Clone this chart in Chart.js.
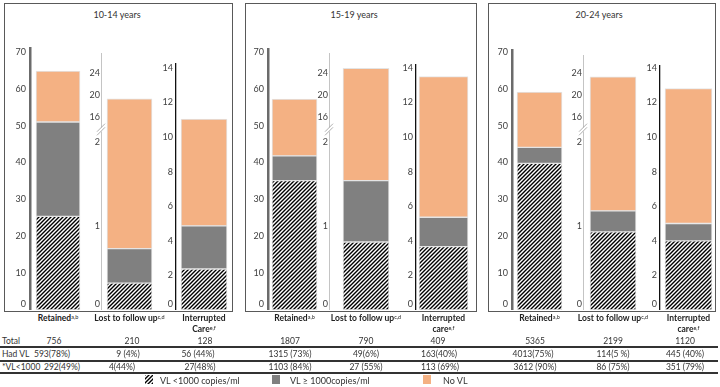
<!DOCTYPE html>
<html>
<head>
<meta charset="utf-8">
<script src="https://cdn.jsdelivr.net/npm/chart.js@4.4.1/dist/chart.umd.min.js"></script>
<style>
  body { margin: 0; width: 720px; height: 387px; position: relative; background: #fff;
         font-family: Lato, 'Liberation Sans', sans-serif; color: #333; overflow: hidden; }
  .box { position: absolute; border: 1px solid #595959; box-sizing: border-box; }
  canvas { position: absolute; }
  .title { position: absolute; font-size: 9px; transform: translateX(-50%); white-space: nowrap; color: #333; }
  .cat { position: absolute; top: 313px; font-size: 8.5px; font-weight: bold; text-align: center;
         transform: translateX(-50%); white-space: nowrap; line-height: 11px; color: #222; }
  sup { font-size: 5.5px; vertical-align: top; line-height: 8px; font-weight: normal; }
  .cell { position: absolute; font-size: 8.5px; transform: translate(-50%, -50%); white-space: nowrap; color: #333; }
  .rowlab { position: absolute; left: 2px; font-size: 8.5px; transform: translateY(-50%); white-space: nowrap; color: #333; }
  .rule { position: absolute; left: 0; width: 718px; height: 2px; background: #333; }
  .leg { position: absolute; font-size: 9px; transform: translateY(-50%); white-space: nowrap; color: #333; }
</style>
</head>
<body>
<script>
// ---- data ----
const AGE_GROUPS = ['10-14 years', '15-19 years', '20-24 years'];
const CATEGORY_NAMES = ['Retained', 'Lost to follow up', 'Interrupted'];
const CATEGORY_SECOND = ['Care', 'care', 'care'];   // second line of "Interrupted care"
const CATEGORY_NOTES = ['a,b', 'c,d', 'e,f'];
const SERIES_LABELS = ['VL <1000 copies/ml', 'VL \u2265 1000copies/ml', 'No VL'];

// per age group: [retained, lost to follow up, interrupted care]
const VL_UNDER_1000 = [[25.4, 0.32, 2.37], [35.1, 0.81, 3.66], [39.8, 0.93, 4.0]];
const VL_OVER_1000  = [[25.6, 0.41, 2.49], [6.7, 0.73, 1.70], [4.3, 0.25, 1.0]];
const NO_VL         = [[13.8, 18.57, 6.18], [15.4, 23.31, 8.13], [15.0, 22.12, 7.8]];

const RETAINED_TICK_STEP = 10;
const INTERRUPTED_TICK_STEP = 2;
const LTFU_TICKS = [0, 1, 2, 16, 20, 24];

const ROW_LABELS = ['Total', 'Had VL', '*VL<1000'];
const TOTAL = ['756', '210', '128', '1807', '790', '409', '5365', '2199', '1120'];
const HAD_VL = ['593(78%)', '9 (4%)', '56 (44%)', '1315 (73%)', '49(6%)', '163(40%)', '4013(75%)', '114(5 %)', '445 (40%)'];
const VL_SUPPRESSED = ['292(49%)', '4(44%)', '27(48%)', '1103 (84%)', '27 (55%)', '113 (69%)', '3612 (90%)', '86 (75%)', '351 (79%)'];

// ---- layout ----
const BASE = 310;           // pixel row of the value 0
const YW = 24;              // width reserved for y tick labels
const PAD_TOP = 10;
const PANEL_BOXES = [[4, 233], [245, 477], [488, 716]];
const TITLE_X = [117, 354, 599];
// [axis x, axis top, bar left, bar right]
const SLOTS = [
  [[30, 48, 36, 80], [101, 53, 107, 152], [176, 64, 181, 227]],
  [[268, 49, 272, 317], [329, 53, 343, 389], [416, 65, 419, 468]],
  [[512, 50, 517, 562], [583, 55, 590, 636], [660, 66, 665, 712]],
];
const PX_RETAINED = 3.686;     // px per unit
const PX_INTERRUPTED = 17.3;
const ROW_Y = [341, 354, 367];
const RULE_Y = [346, 359.5, 372];
const COL_X = [
  [54, 132, 205, 290, 366, 438, 535, 613, 685],
  [52, 128, 198, 290, 366, 439, 533, 613, 685],
  [62, 122, 200, 290, 366, 440, 535, 613, 685],
];

const ORANGE = '#F4B183';
const GRAY = '#808080';
const EDGE = '#e4e4e4';

Chart.defaults.font.family = 'Lato, "Liberation Sans", sans-serif';
Chart.defaults.font.size = 9;
Chart.defaults.color = '#404040';

// broken axis used by the "lost to follow up" bars: 0-2 stretched, 2-16 squeezed, 16+ compressed
function brokenOffset(v) {
  if (v <= 2) return v * 84;
  if (v <= 16) return 168 + (v - 2) / 14 * 25;
  return 193 + (v - 16) * 5.5;
}
function brokenValue(off) {
  if (off <= 168) return off / 84;
  if (off <= 193) return 2 + (off - 168) / 25 * 14;
  return 16 + (off - 193) / 5.5;
}

class PanelScale extends Chart.LinearScale {
  static id = 'panel';
  static defaults = Chart.LinearScale.defaults;
  buildTicks() {
    if (this.options.broken) return LTFU_TICKS.map(v => ({ value: v }));
    return super.buildTicks();
  }
  getPixelForValue(v) {
    if (!this.options.broken) return super.getPixelForValue(v);
    return this.bottom - brokenOffset(v);
  }
  getValueForPixel(p) {
    if (!this.options.broken) return super.getValueForPixel(p);
    return brokenValue(this.bottom - p);
  }
  // the zero labels sit a little above the base line in the original
  getPixelForTick(i) {
    const p = super.getPixelForTick(i);
    return this.ticks[i] && this.ticks[i].value === 0 ? p - 6 : p;
  }
}
Chart.register(PanelScale);

const breakMark = {
  id: 'breakMark',
  afterDraw(chart) {
    const y = chart.scales.y;
    if (!y.options.broken) return;
    const ctx = chart.ctx, x = y.right, py = y.getPixelForValue(9);
    ctx.save();
    ctx.fillStyle = '#fff';
    ctx.fillRect(x - 2, py - 2, 4, 4);
    ctx.strokeStyle = '#9a9a9a';
    ctx.lineWidth = 0.8;
    [-1.8, 1.8].forEach(d => {
      ctx.beginPath();
      ctx.moveTo(x - 4, py + d + 4);
      ctx.lineTo(x + 4, py + d - 4);
      ctx.stroke();
    });
    ctx.restore();
  }
};

function hatchTile() {
  const c = document.createElement('canvas');
  c.width = c.height = 4;
  const g = c.getContext('2d');
  g.fillStyle = '#fff';
  g.fillRect(0, 0, 4, 4);
  g.strokeStyle = '#000';
  g.lineWidth = 1.4;
  g.beginPath();
  g.moveTo(0, 4); g.lineTo(4, 0);
  g.moveTo(-1, 1); g.lineTo(1, -1);
  g.moveTo(3, 5); g.lineTo(5, 3);
  g.stroke();
  return c;
}
const TILE = hatchTile();

function el(cls, html, style) {
  const d = document.createElement('div');
  d.className = cls;
  d.innerHTML = html;
  Object.assign(d.style, style);
  document.body.appendChild(d);
  return d;
}

// panel frames and titles
PANEL_BOXES.forEach(([l, r], p) => {
  el('box', '', { left: l + 'px', top: '3px', width: (r - l) + 'px', height: '309px' });
  el('title', AGE_GROUPS[p], { left: TITLE_X[p] + 'px', top: '9px' });
});

const AXIS_STYLE = [
  { color: '#6b6b6b', width: 2.5, pad: 4 },
  { color: '#c4c4c4', width: 1, pad: 1 },
  { color: '#111', width: 1.3, pad: 3 },
];

for (let p = 0; p < 3; p++) {
  for (let c = 0; c < 3; c++) {
    const [ax, top, bl, br] = SLOTS[p][c];
    const center = (bl + br) / 2;
    const left = ax - YW;
    const right = 2 * center - ax;
    const cv = document.createElement('canvas');
    cv.width = right - left;
    cv.height = BASE - top + PAD_TOP;
    cv.style.left = left + 'px';
    cv.style.top = (top - PAD_TOP) + 'px';
    document.body.appendChild(cv);

    const pattern = cv.getContext('2d').createPattern(TILE, 'repeat');
    const yOpts = {
      type: 'panel', stacked: true, min: 0,
      grid: { display: false, drawTicks: false },
      border: { display: true, color: AXIS_STYLE[c].color, width: AXIS_STYLE[c].width },
      ticks: { padding: AXIS_STYLE[c].pad, autoSkip: false, includeBounds: false, callback: v => String(v) },
      afterFit(s) { s.width = YW; s.paddingTop = 0; s.paddingBottom = 0; },
    };
    if (c === 0) { yOpts.max = (BASE - top) / PX_RETAINED; yOpts.ticks.stepSize = RETAINED_TICK_STEP; }
    if (c === 1) { yOpts.max = brokenValue(BASE - top); yOpts.broken = true; }
    if (c === 2) { yOpts.max = (BASE - top) / PX_INTERRUPTED; yOpts.ticks.stepSize = INTERRUPTED_TICK_STEP; }

    const common = { barThickness: br - bl, borderColor: EDGE, borderWidth: 1, borderSkipped: false };
    new Chart(cv, {
      type: 'bar',
      data: {
        labels: [CATEGORY_NAMES[c]],
        datasets: [
          { label: SERIES_LABELS[0], data: [VL_UNDER_1000[p][c]], backgroundColor: pattern, ...common },
          { label: SERIES_LABELS[1], data: [VL_OVER_1000[p][c]], backgroundColor: GRAY, ...common },
          { label: SERIES_LABELS[2], data: [NO_VL[p][c]], backgroundColor: ORANGE, ...common },
        ],
      },
      options: {
        responsive: false,
        animation: false,
        layout: { padding: { top: PAD_TOP, left: 0, right: 0, bottom: 0 } },
        plugins: { legend: { display: false }, tooltip: { enabled: false } },
        scales: {
          x: { stacked: true, display: false },
          y: yOpts,
        },
      },
      plugins: [breakMark],
    });

    // category label under the bar
    const name = c === 2
      ? CATEGORY_NAMES[c] + '<br>' + CATEGORY_SECOND[p] + '<sup>' + CATEGORY_NOTES[c] + '</sup>'
      : CATEGORY_NAMES[c] + '<sup>' + CATEGORY_NOTES[c] + '</sup>';
    el('cat', name, { left: center + 'px' });
  }
}

// summary table
const ROWS = [TOTAL, HAD_VL, VL_SUPPRESSED];
ROWS.forEach((row, r) => {
  el('rowlab', ROW_LABELS[r], { top: ROW_Y[r] + 'px' });
  row.forEach((txt, i) => el('cell', txt, { left: COL_X[r][i] + 'px', top: ROW_Y[r] + 'px' }));
  el('rule', '', { top: RULE_Y[r] + 'px' });
});

// legend
const LEG_X = [[145, 160], [272, 290], [423, 443]];
const LEG_FILL = [null, GRAY, ORANGE];
SERIES_LABELS.forEach((lab, i) => {
  const sw = document.createElement('canvas');
  sw.width = 8; sw.height = 9;
  sw.style.left = LEG_X[i][0] + 'px';
  sw.style.top = '375px';
  const g = sw.getContext('2d');
  g.fillStyle = LEG_FILL[i] || g.createPattern(TILE, 'repeat');
  g.fillRect(0, 0, 8, 9);
  document.body.appendChild(sw);
  el('leg', lab, { left: LEG_X[i][1] + 'px', top: '380px' });
});
</script>
</body>
</html>
